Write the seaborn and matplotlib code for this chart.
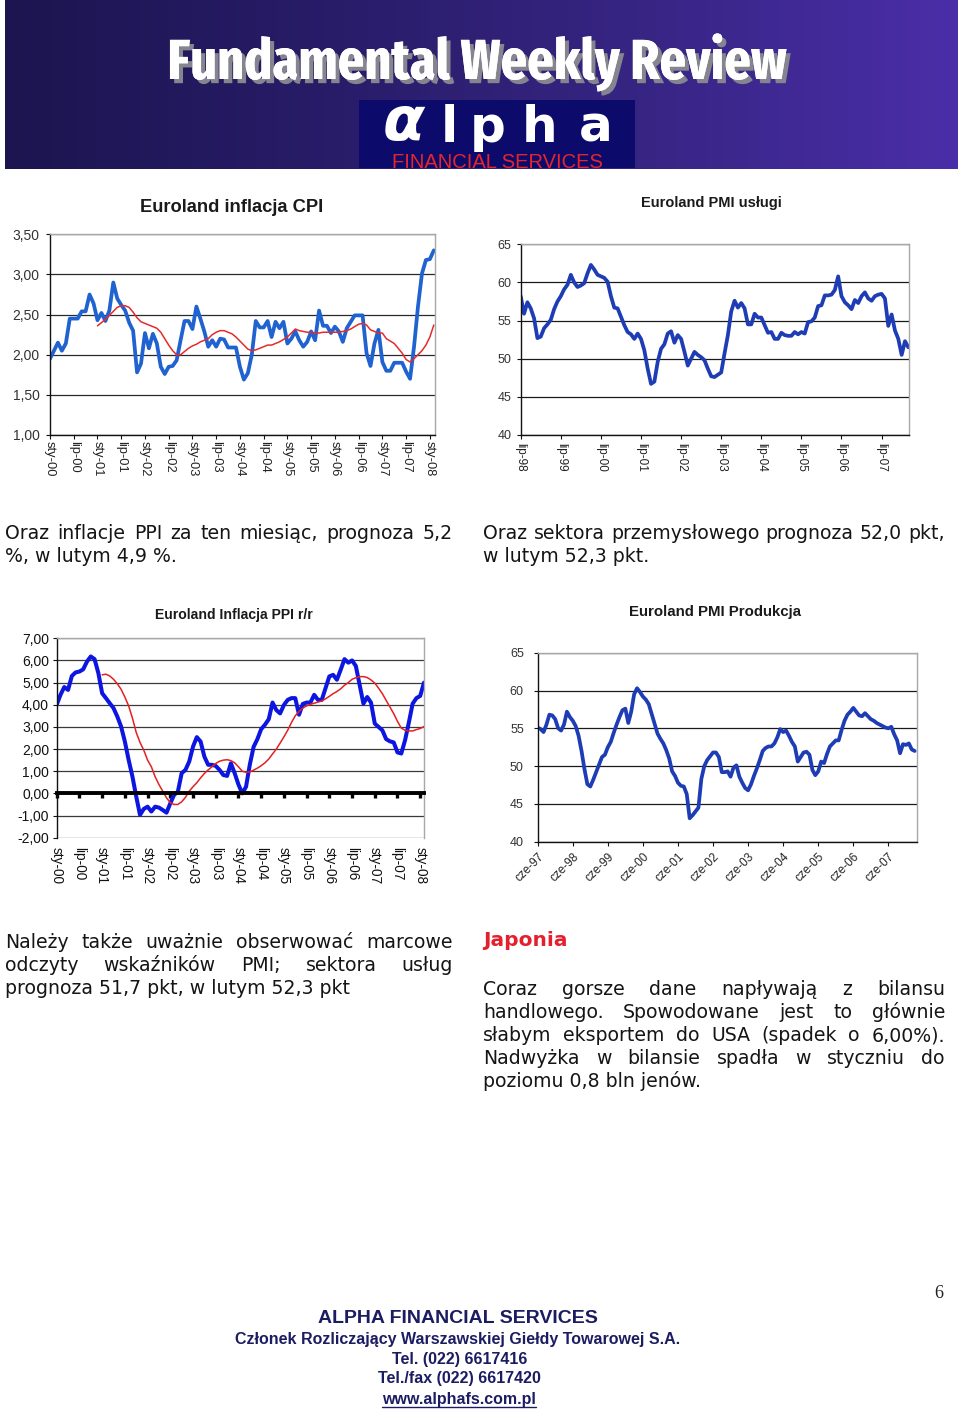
import os
import numpy as np
import pandas as pd
import matplotlib
matplotlib.use("Agg")
import matplotlib.pyplot as plt
import seaborn as sns
from matplotlib import font_manager
from matplotlib.colors import LinearSegmentedColormap
from matplotlib.patches import Rectangle
from matplotlib.ticker import FuncFormatter
import matplotlib.transforms as mtransforms
import matplotlib.patheffects as pe

# ---------------------------------------------------------------- data
cpi_ticklabels = ["sty-00", "lip-00", "sty-01", "lip-01", "sty-02", "lip-02", "sty-03", "lip-03",
                  "sty-04", "lip-04", "sty-05", "lip-05", "sty-06", "lip-06", "sty-07", "lip-07", "sty-08"]
cpi_hicp = [1.95, 2.05, 2.15, 2.05, 2.14, 2.45, 2.45, 2.45, 2.54, 2.54,
            2.75, 2.64, 2.43, 2.52, 2.42, 2.55, 2.90, 2.70, 2.62, 2.55,
            2.40, 2.30, 1.78, 1.89, 2.27, 2.08, 2.26, 2.14, 1.85, 1.76,
            1.85, 1.86, 1.93, 2.18, 2.42, 2.42, 2.32, 2.60, 2.45, 2.29,
            2.10, 2.18, 2.10, 2.20, 2.19, 2.09, 2.09, 2.09, 1.85, 1.69,
            1.77, 2.00, 2.42, 2.34, 2.34, 2.42, 2.22, 2.41, 2.33, 2.41,
            2.14, 2.20, 2.29, 2.18, 2.10, 2.16, 2.29, 2.18, 2.55, 2.36,
            2.36, 2.27, 2.35, 2.29, 2.16, 2.33, 2.41, 2.49, 2.49, 2.49,
            2.02, 1.86, 2.14, 2.31, 1.91, 1.80, 1.80, 1.90, 1.90, 1.90,
            1.79, 1.70, 2.10, 2.60, 3.01, 3.18, 3.19, 3.30]
cpi_avg12 = [2.36, 2.40, 2.44, 2.49, 2.54, 2.59, 2.61, 2.61, 2.59, 2.53,
             2.46, 2.41, 2.39, 2.37, 2.35, 2.33, 2.28, 2.20, 2.12, 2.05,
             2.00, 2.00, 2.04, 2.08, 2.11, 2.13, 2.16, 2.18, 2.20, 2.25,
             2.28, 2.30, 2.30, 2.28, 2.26, 2.22, 2.17, 2.12, 2.07, 2.05,
             2.06, 2.08, 2.10, 2.12, 2.12, 2.14, 2.16, 2.19, 2.22, 2.27,
             2.32, 2.30, 2.29, 2.28, 2.28, 2.27, 2.27, 2.28, 2.28, 2.28,
             2.28, 2.28, 2.29, 2.30, 2.32, 2.35, 2.38, 2.39, 2.37, 2.31,
             2.29, 2.27, 2.27, 2.20, 2.17, 2.14, 2.08, 2.02, 1.94, 1.91,
             1.95, 2.00, 2.05, 2.12, 2.22, 2.37]

pmi_serv_ticklabels = ["lip-98", "lip-99", "lip-00", "lip-01", "lip-02", "lip-03",
                       "lip-04", "lip-05", "lip-06", "lip-07"]
pmi_services = [58.2, 55.9, 57.4, 56.6, 55.3, 52.7, 52.9, 54.0, 54.5, 55.1,
                56.5, 57.5, 58.2, 59.1, 59.7, 61.0, 60.0, 59.4, 59.6, 59.9,
                61.2, 62.3, 61.7, 61.0, 60.8, 60.6, 60.1, 58.2, 56.7, 56.6,
                55.5, 54.4, 53.5, 53.2, 52.6, 53.3, 52.6, 51.1, 48.7, 46.7,
                47.0, 49.6, 51.3, 51.9, 53.3, 53.6, 52.1, 53.1, 52.6, 50.9,
                49.1, 50.0, 50.9, 50.5, 50.2, 49.8, 48.7, 47.7, 47.6, 47.9,
                48.2, 50.7, 53.1, 56.2, 57.6, 56.7, 57.3, 56.6, 54.5, 54.5,
                55.9, 55.4, 55.4, 54.4, 53.4, 53.5, 52.6, 52.6, 53.4, 53.1,
                53.0, 53.0, 53.5, 53.2, 53.5, 53.3, 54.8, 54.9, 55.4, 56.9,
                57.0, 58.3, 58.3, 58.4, 59.0, 60.8, 58.2, 57.4, 57.0, 56.5,
                57.7, 57.3, 58.2, 58.7, 57.9, 57.6, 58.2, 58.4, 58.5, 57.9,
                54.3, 55.8, 53.7, 52.6, 50.5, 52.3, 51.5]

ppi_ticklabels = cpi_ticklabels
ppi_yoy = [4.00, 4.45, 4.80, 4.67, 5.30, 5.46, 5.50, 5.60, 5.95, 6.18,
           6.06, 5.43, 4.52, 4.30, 4.07, 3.85, 3.47, 3.02, 2.34, 1.51,
           0.76, -0.14, -0.97, -0.70, -0.60, -0.82, -0.60, -0.64, -0.75, -0.87,
           -0.45, -0.07, 0.08, 0.91, 1.06, 1.44, 2.11, 2.54, 2.34, 1.66,
           1.29, 1.29, 1.24, 1.06, 0.83, 0.79, 1.36, 0.91, 0.40, 0.00,
           0.30, 1.30, 2.10, 2.45, 2.90, 3.10, 3.35, 4.10, 3.76, 3.61,
           3.99, 4.22, 4.30, 4.30, 3.55, 4.04, 4.10, 4.10, 4.45, 4.22,
           4.22, 4.75, 5.28, 5.35, 5.13, 5.58, 6.06, 5.90, 6.00, 5.75,
           4.90, 4.05, 4.35, 4.10, 3.15, 3.00, 2.85, 2.45, 2.35, 2.30,
           1.85, 1.80, 2.40, 3.20, 4.05, 4.30, 4.40, 5.00]
ppi_avg12 = [5.35, 5.38, 5.30, 5.15, 4.95, 4.70, 4.35, 3.95, 3.40, 2.75,
             2.30, 1.95, 1.50, 1.20, 0.75, 0.40, 0.10, -0.20, -0.42, -0.50,
             -0.50, -0.38, -0.18, 0.10, 0.30, 0.48, 0.70, 0.90, 1.06, 1.20,
             1.35, 1.45, 1.50, 1.52, 1.48, 1.38, 1.20, 1.00, 0.95, 0.97,
             1.05, 1.14, 1.25, 1.38, 1.55, 1.78, 2.00, 2.27, 2.55, 2.85,
             3.20, 3.50, 3.70, 3.85, 3.95, 4.02, 4.07, 4.12, 4.17, 4.27,
             4.38, 4.50, 4.60, 4.72, 4.88, 5.00, 5.15, 5.22, 5.27, 5.27,
             5.23, 5.12, 4.98, 4.75, 4.50, 4.20, 3.90, 3.60, 3.25, 2.95,
             2.85, 2.82, 2.82, 2.88, 2.93, 3.02]

pmi_prod_ticklabels = ["cze-97", "cze-98", "cze-99", "cze-00", "cze-01", "cze-02",
                       "cze-03", "cze-04", "cze-05", "cze-06", "cze-07"]
pmi_production = [55.1, 54.9, 54.5, 55.5, 56.8, 56.7, 56.2, 55.0, 54.7, 55.5,
                  57.2, 56.5, 56.0, 55.3, 54.0, 52.0, 49.6, 47.6, 47.3, 48.2,
                  49.2, 50.2, 51.2, 51.5, 52.5, 53.2, 54.4, 55.5, 56.5, 57.4,
                  57.6, 55.7, 57.2, 59.5, 60.3, 59.8, 59.2, 58.8, 58.2, 56.9,
                  55.6, 54.3, 53.6, 53.0, 52.1, 51.0, 49.3, 48.7, 47.8, 47.4,
                  47.3, 46.3, 43.1, 43.5, 44.0, 44.5, 48.3, 50.0, 50.8, 51.3,
                  51.8, 51.8, 51.2, 49.2, 49.2, 49.3, 48.6, 49.8, 50.1, 48.6,
                  47.8, 47.1, 46.8, 47.6, 48.7, 49.7, 50.8, 52.0, 52.4, 52.6,
                  52.6, 53.0, 53.8, 54.9, 54.5, 54.7, 54.0, 53.2, 52.6, 50.6,
                  51.2, 51.8, 51.9, 51.5, 49.5, 48.8, 49.3, 50.6, 50.4, 51.6,
                  52.6, 53.0, 53.4, 53.4, 54.8, 56.0, 56.8, 57.2, 57.7, 57.2,
                  56.7, 56.6, 57.0, 56.6, 56.2, 56.0, 55.7, 55.5, 55.3, 55.1,
                  55.0, 55.2, 54.2, 53.4, 51.7, 52.9, 52.8, 53.0, 52.2, 52.0]

# ---------------------------------------------------------------- fonts
sns.set_theme(style="white")
avail = {f.name for f in font_manager.fontManager.ttflist}


def pick(*names):
    for n in names:
        if n in avail:
            return n
    return "DejaVu Sans"


SANS = pick("Liberation Sans", "Arimo", "DejaVu Sans")
SERIF = pick("Liberation Serif", "DejaVu Serif")
VERD = "DejaVu Sans"
plt.rcParams["font.family"] = [SANS, "DejaVu Sans"]
plt.rcParams["axes.unicode_minus"] = False


def _w(f):
    w = f.weight
    if isinstance(w, str):
        w = font_manager.weight_dict.get(w, 400)
    return w


cands = []
for f in font_manager.fontManager.ttflist:
    key = (f.name + " " + os.path.basename(f.fname)).lower().replace(" ", "").replace("-", "")
    if _w(f) < 600 or f.style != "normal":
        continue
    if "extracondensed" in key and "ultra" not in key:
        r = 0
    elif "narrow" in key:
        r = 1
    elif "semicondensed" in key:
        r = 4
    elif "condensed" in key:
        r = 3 if "dejavu" in key else 2
    else:
        continue
    cands.append((r, abs(_w(f) - 700), f.fname))
cands.sort()
if cands:
    NARROW_FP = font_manager.FontProperties(fname=cands[0][2])
else:
    NARROW_FP = font_manager.FontProperties(family=SANS, weight="bold")

# ---------------------------------------------------------------- page
W, H = 960.0, 1413.0
fig = plt.figure(figsize=(9.6, 14.13), dpi=100)
fig.patch.set_facecolor("white")
bg = fig.add_axes([0, 0, 1, 1], zorder=0)
bg.axis("off")
renderer = fig.canvas.get_renderer()

grad = np.linspace(0, 1, 400)[None, :]
banner_cmap = LinearSegmentedColormap.from_list(
    "banner", ["#1c1550", "#281c68", "#372583", "#4a2ea8"])
bg.imshow(grad, extent=[5, 958, 169, 0], cmap=banner_cmap, aspect="auto",
          interpolation="bilinear", zorder=1)
bg.set_xlim(0, W)
bg.set_ylim(H, 0)


def fit(ax, x, y, s, width, size, **kw):
    t = ax.text(x, y, s, fontsize=size, **kw)
    w = t.get_window_extent(renderer).width
    if w > width:
        t.set_fontsize(size * width / w)
    return t


# banner title with drop shadow (path effect)
t_title = fit(bg, 477, 79, "Fundamental Weekly Review", 619, 53, fontproperties=NARROW_FP,
              color="white", ha="center", va="baseline", zorder=4)
t_title.set_path_effects([pe.withSimplePatchShadow(offset=(3, -3), shadow_rgbFace="#85858f",
                                                   alpha=1.0), pe.Normal()])

# logo
bg.add_patch(Rectangle((359, 100), 276, 68, facecolor="#0c0b6c", edgecolor="none", zorder=2))
bg.text(404, 140, "α", fontsize=44, family=VERD, fontweight="bold", style="italic",
        color="white", ha="center", va="baseline", zorder=3)
for ch, xc in zip("lpha", [449, 488, 540, 596]):
    bg.text(xc, 141.5, ch, fontsize=36, family=VERD, fontweight="bold", color="white",
            ha="center", va="baseline", zorder=3)
fit(bg, 497, 167.8, "FINANCIAL SERVICES", 258, 14.5, family=SANS, color="#e4262c",
    ha="center", va="baseline", zorder=3)

# paragraphs
TXT = "#151515"
PSIZE = 13.6


def para_line(x0, x1, yb, s, justify, size=PSIZE):
    if not justify:
        bg.text(x0, yb, s, fontsize=size, family=VERD, color=TXT, ha="left",
                va="baseline", zorder=3)
        return
    words = s.split(" ")
    ts = [bg.text(0, yb, w, fontsize=size, family=VERD, color=TXT, ha="left",
                  va="baseline", zorder=3) for w in words]
    ws = [t.get_window_extent(renderer).width for t in ts]
    gap = (x1 - x0 - sum(ws)) / (len(words) - 1)
    if gap < 3:
        scale = (x1 - x0 - 3 * (len(words) - 1)) / sum(ws)
        for t in ts:
            t.set_fontsize(size * scale)
        ws = [w * scale for w in ws]
        gap = 3
    x = x0
    for t, w in zip(ts, ws):
        t.set_x(x)
        x += w + gap


para_line(5, 453, 539, "Oraz inflacje PPI za ten miesiąc, prognoza 5,2", True)
para_line(5, 453, 562, "%, w lutym 4,9 %.", False)
para_line(483, 945, 539, "Oraz sektora przemysłowego prognoza 52,0 pkt,", True)
para_line(483, 945, 562, "w lutym 52,3 pkt.", False)

para_line(5, 453, 948, "Należy także uważnie obserwować marcowe", True)
para_line(5, 453, 971, "odczyty wskaźników PMI; sektora usług", True)
para_line(5, 453, 994, "prognoza 51,7 pkt, w lutym 52,3 pkt", False)

bg.text(483, 946, "Japonia", fontsize=14.5, family=VERD, fontweight="bold",
        color="#e3202c", ha="left", va="baseline", zorder=3)
para_line(483, 945, 995, "Coraz gorsze dane napływają z bilansu", True)
para_line(483, 945, 1018, "handlowego. Spowodowane jest to głównie", True)
para_line(483, 945, 1041, "słabym eksportem do USA (spadek o 6,00%).", True)
para_line(483, 945, 1064, "Nadwyżka w bilansie spadła w styczniu do", True)
para_line(483, 945, 1087, "poziomu 0,8 bln jenów.", False)

# footer
NAVY = "#1c1c62"
bg.text(939, 1294, "6", fontsize=13, family=SERIF, color="#222222",
        ha="center", va="center", zorder=3)
fit(bg, 458, 1323, "ALPHA FINANCIAL SERVICES", 293, 14, family=SANS, fontweight="bold",
    color=NAVY, ha="center", va="baseline", zorder=3)
fit(bg, 458, 1344, "Członek Rozliczający Warszawskiej Giełdy Towarowej S.A.", 477, 11.5,
    family=SANS, fontweight="bold", color=NAVY, ha="center", va="baseline", zorder=3)
fit(bg, 460, 1364, "Tel. (022) 6617416", 146, 11.5, family=SANS, fontweight="bold",
    color=NAVY, ha="center", va="baseline", zorder=3)
fit(bg, 459, 1383, "Tel./fax (022) 6617420", 175, 11.5, family=SANS, fontweight="bold",
    color=NAVY, ha="center", va="baseline", zorder=3)
t_www = fit(bg, 459, 1404, "www.alphafs.com.pl", 166, 11.5, family=SANS, fontweight="bold",
            color=NAVY, ha="center", va="baseline", zorder=3)
bb = t_www.get_window_extent(renderer)
bg.plot([bb.x0, bb.x1], [1406.5, 1406.5], color=NAVY, lw=1.0, zorder=3)
bg.set_xlim(0, W)
bg.set_ylim(H, 0)

# ---------------------------------------------------------------- charts


def make_ax(l, t, r, b):
    return fig.add_axes([l / W, 1 - b / H, (r - l) / W, (b - t) / H], zorder=2)


def base_style(ax, grid_color, frame="#a8a8a8"):
    ax.set_facecolor("white")
    for s in ["top", "right"]:
        ax.spines[s].set_color(frame)
        ax.spines[s].set_linewidth(1.0)
    for s in ["left", "bottom"]:
        ax.spines[s].set_color("#111111")
        ax.spines[s].set_linewidth(1.0)
    ax.grid(False)
    ax.yaxis.grid(True, color=grid_color, linewidth=0.9)
    ax.set_axisbelow(True)
    ax.set_xlabel("")
    ax.set_ylabel("")


comma2 = FuncFormatter(lambda v, p: f"{v:.2f}".replace(".", ","))
int0 = FuncFormatter(lambda v, p: f"{v:.0f}")

# --- Chart 1: Euroland inflacja CPI
ax1 = make_ax(50, 234.3, 435, 435)
df1 = pd.DataFrame({"miesiac": np.arange(len(cpi_hicp)), "HICP": cpi_hicp,
                    "srednia": [np.nan] * (len(cpi_hicp) - len(cpi_avg12)) + cpi_avg12})
sns.lineplot(data=df1, x="miesiac", y="HICP", ax=ax1, color="#1f62d0", linewidth=2.7,
             estimator=None, legend=False)
sns.lineplot(data=df1, x="miesiac", y="srednia", ax=ax1, color="#e42b2b", linewidth=1.1,
             estimator=None, legend=False)
base_style(ax1, "#2a2a2a")
ax1.set_xlim(0, 97.3)
ax1.set_ylim(1.0, 3.5)
ax1.set_yticks(np.arange(1.0, 3.51, 0.5))
ax1.yaxis.set_major_formatter(comma2)
ax1.set_xticks(np.arange(0, 6 * len(cpi_ticklabels), 6))
ax1.set_xticklabels(cpi_ticklabels, rotation=-90)
ax1.tick_params(axis="x", bottom=True, length=3, width=0.8, color="#111111", pad=1.5,
                labelsize=9.3, labelcolor="#222222")
ax1.tick_params(axis="y", left=True, length=3, width=0.8, color="#111111", pad=4.5,
                labelsize=10, labelcolor="#333333")
bg.text(232, 208, "Euroland inflacja CPI", fontsize=13.2, fontweight="bold", family=SANS,
        color="#1a1a1a", ha="center", va="center", zorder=3)

# --- Chart 2: Euroland PMI usługi
ax2 = make_ax(520.7, 244.3, 909, 435)
df2 = pd.DataFrame({"miesiac": np.arange(len(pmi_services)), "PMI": pmi_services})
sns.lineplot(data=df2, x="miesiac", y="PMI", ax=ax2, color="#1e3db5", linewidth=2.7,
             estimator=None, legend=False)
base_style(ax2, "#1a1a1a")
ax2.set_xlim(0, 116.2)
ax2.set_ylim(40, 65)
ax2.set_yticks(np.arange(40, 66, 5))
ax2.yaxis.set_major_formatter(int0)
ax2.set_xticks(np.arange(0, 12 * len(pmi_serv_ticklabels), 12))
ax2.set_xticklabels(pmi_serv_ticklabels, rotation=-90)
ax2.tick_params(axis="x", bottom=True, length=3, width=0.8, color="#111111", pad=3,
                labelsize=8.5, labelcolor="#222222")
ax2.tick_params(axis="y", left=True, length=3, width=0.8, color="#111111", pad=3.5,
                labelsize=9, labelcolor="#333333")
bg.text(711, 203, "Euroland PMI usługi", fontsize=10.5, fontweight="bold", family=SANS,
        color="#1a1a1a", ha="center", va="center", zorder=3)

# --- Chart 3: Euroland Inflacja PPI r/r
ax3 = make_ax(56.7, 638.3, 424, 837.7)
df3 = pd.DataFrame({"miesiac": np.arange(len(ppi_yoy)), "PPI": ppi_yoy,
                    "srednia": [np.nan] * (len(ppi_yoy) - len(ppi_avg12)) + ppi_avg12})
sns.lineplot(data=df3, x="miesiac", y="PPI", ax=ax3, color="#0c16e0", linewidth=2.9,
             estimator=None, legend=False)
sns.lineplot(data=df3, x="miesiac", y="srednia", ax=ax3, color="#e42020", linewidth=1.1,
             estimator=None, legend=False)
base_style(ax3, "#3a3a3a")
ax3.set_xlim(0, 97)
ax3.set_ylim(-2, 7)
ax3.set_yticks(np.arange(-2, 7.01, 1))
ax3.yaxis.set_major_formatter(comma2)
ax3.spines["bottom"].set_position(("data", 0))
ax3.spines["bottom"].set_linewidth(2.8)
ax3.spines["bottom"].set_color("black")
ax3.spines["bottom"].set_zorder(3)
ax3_ticks = np.arange(0, 6 * len(ppi_ticklabels), 6)
ax3.set_xticks(ax3_ticks)
ax3.tick_params(axis="x", bottom=True, length=3.5, width=2.4, color="black",
                labelbottom=False)
ax3.tick_params(axis="y", left=True, length=3, width=0.8, color="#111111", pad=2.5,
                labelsize=10, labelcolor="#111111")
tr3 = mtransforms.blended_transform_factory(ax3.transData, ax3.transAxes)
for xv, lab in zip(ax3_ticks, ppi_ticklabels):
    ax3.text(xv, -0.045, lab, transform=tr3, rotation=-90, ha="center", va="top",
             fontsize=9.8, color="#111111", clip_on=False)
bg.text(234, 615, "Euroland Inflacja PPI r/r", fontsize=10.1, fontweight="bold", family=SANS,
        color="#1a1a1a", ha="center", va="center", zorder=3)

# --- Chart 4: Euroland PMI Produkcja
ax4 = make_ax(537.7, 652.7, 917.3, 841.7)
df4 = pd.DataFrame({"miesiac": np.arange(len(pmi_production)), "PMI": pmi_production})
sns.lineplot(data=df4, x="miesiac", y="PMI", ax=ax4, color="#1e3db5", linewidth=2.7,
             estimator=None, legend=False)
base_style(ax4, "#1a1a1a")
ax4.set_xlim(0, 129.9)
ax4.set_ylim(40, 65)
ax4.set_yticks(np.arange(40, 66, 5))
ax4.yaxis.set_major_formatter(int0)
ax4.set_xticks(np.arange(0, 12 * len(pmi_prod_ticklabels), 12))
ax4.set_xticklabels(pmi_prod_ticklabels, rotation=45, ha="right", va="top",
                    rotation_mode="anchor")
ax4.tick_params(axis="x", bottom=True, length=3, width=0.8, color="#111111", pad=3.5,
                labelsize=8.5, labelcolor="#222222")
ax4.tick_params(axis="y", left=True, length=3, width=0.8, color="#111111", pad=7,
                labelsize=9, labelcolor="#333333")
bg.text(715, 612, "Euroland PMI Produkcja", fontsize=10.8, fontweight="bold", family=SANS,
        color="#1a1a1a", ha="center", va="center", zorder=3)

fig.savefig("out.png", dpi=100, facecolor="white")
